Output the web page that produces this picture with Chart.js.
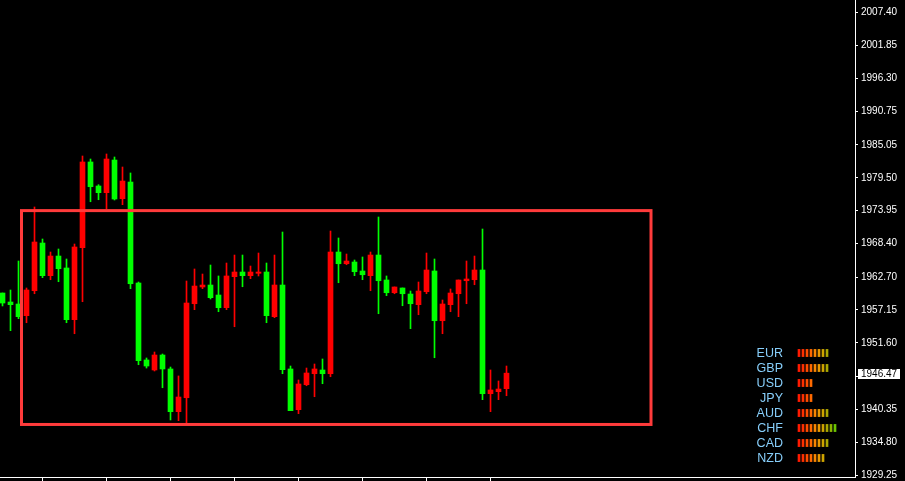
<!DOCTYPE html>
<html>
<head>
<meta charset="utf-8">
<script src="https://cdn.jsdelivr.net/npm/chart.js@4.4.1/dist/chart.umd.min.js"></script>
<style>
  html, body { margin: 0; padding: 0; background: #000; }
  canvas { display: block; }
</style>
</head>
<body>
<canvas id="chart" width="905" height="481"></canvas>
<script>
// candle prices, oldest first
const opens = [1960.02, 1958.50, 1958.16, 1956.19, 1960.41, 1968.47, 1962.95, 1966.27, 1964.25, 1955.51,
  1967.68, 1982.17, 1978.11, 1976.98, 1982.50, 1975.96, 1978.78, 1961.71, 1948.70, 1947.01,
  1949.54, 1947.18, 1939.96, 1942.32, 1958.21, 1961.04, 1961.37, 1959.68, 1957.54, 1962.78,
  1963.57, 1962.95, 1963.35, 1963.57, 1956.02, 1961.37, 1947.18, 1940.30, 1944.52, 1946.38,
  1947.01, 1946.38, 1966.95, 1964.97, 1965.26, 1963.74, 1962.95, 1966.44, 1962.22, 1960.07,
  1960.87, 1959.85, 1958.05, 1960.24, 1963.74, 1955.34, 1958.05, 1959.90, 1962.10, 1962.27,
  1963.91, 1943.00, 1943.34, 1943.85];
const highs = [1960.02, 1960.53, 1965.43, 1960.87, 1974.56, 1969.15, 1966.95, 1967.46, 1965.77, 1968.30,
  1983.18, 1982.67, 1978.33, 1983.52, 1983.01, 1981.32, 1980.31, 1961.88, 1949.04, 1950.05,
  1949.71, 1947.51, 1946.00, 1962.05, 1964.08, 1963.23, 1964.75, 1962.90, 1965.09, 1966.44,
  1966.44, 1964.58, 1966.78, 1965.09, 1966.44, 1970.33, 1947.68, 1945.32, 1947.34, 1948.02,
  1948.87, 1970.50, 1969.32, 1966.61, 1965.60, 1966.11, 1966.95, 1972.87, 1962.90, 1961.04,
  1960.87, 1960.36, 1961.88, 1966.78, 1965.77, 1958.84, 1960.70, 1962.22, 1965.43, 1966.27,
  1970.84, 1947.01, 1945.15, 1947.68];
const lows = [1957.83, 1953.65, 1955.68, 1955.00, 1959.90, 1962.61, 1962.27, 1961.93, 1955.00, 1953.14,
  1958.55, 1975.45, 1975.79, 1974.22, 1975.74, 1974.95, 1960.75, 1947.90, 1947.34, 1946.84,
  1944.01, 1938.56, 1938.44, 1938.05, 1957.20, 1960.75, 1959.01, 1956.86, 1957.20, 1954.32,
  1961.08, 1962.44, 1962.90, 1955.00, 1955.85, 1946.38, 1940.13, 1939.62, 1944.35, 1942.49,
  1944.69, 1945.87, 1961.76, 1964.80, 1962.95, 1962.27, 1960.41, 1956.52, 1959.57, 1959.90,
  1957.87, 1953.99, 1956.35, 1959.90, 1949.08, 1953.14, 1956.86, 1956.02, 1958.21, 1961.42,
  1941.99, 1939.96, 1941.99, 1942.66];
const closes = [1958.33, 1958.05, 1956.02, 1960.53, 1968.64, 1962.95, 1966.27, 1964.13, 1955.51, 1967.80,
  1982.17, 1977.99, 1976.98, 1982.67, 1975.91, 1978.95, 1961.59, 1948.58, 1947.68, 1949.54,
  1947.18, 1939.96, 1942.44, 1958.33, 1961.20, 1961.37, 1959.23, 1957.54, 1962.90, 1963.57,
  1962.95, 1963.57, 1963.57, 1956.19, 1961.37, 1947.06, 1940.13, 1944.64, 1946.50, 1947.18,
  1946.38, 1966.95, 1964.97, 1965.43, 1963.62, 1963.11, 1966.44, 1962.10, 1960.07, 1961.04,
  1959.90, 1958.21, 1960.36, 1963.91, 1955.34, 1958.16, 1960.02, 1962.22, 1962.39, 1963.91,
  1943.00, 1943.63, 1943.79, 1946.47];

const priceTicks = [2007.40, 2001.85, 1996.30, 1990.75, 1985.05, 1979.50, 1973.95, 1968.40,
  1962.70, 1957.15, 1951.60, 1945.90, 1940.35, 1934.80, 1929.25];
const timeTicks = [5, 13, 21, 29, 37, 45, 53, 61];

// range box (bar index / price)
const boxBars = [2.375, 81.0625];
const boxPrices = [1937.8, 1973.95];

// currency strength panel
const currencies = ['EUR', 'GBP', 'USD', 'JPY', 'AUD', 'CHF', 'CAD', 'NZD'];
const strength = [8, 8, 4, 4, 8, 10, 8, 7];
const segColors = ['#ff1a00', '#ff3000', '#ff4c00', '#ff6a00', '#f88600', '#ea9800',
  '#cfa400', '#aaa800', '#8cb400', '#6cc400'];

const idx = opens.map((_, i) => i);
const candleColors = idx.map(i => closes[i] > opens[i] ? '#ff0000' : '#00ff00');

const strengthSets = currencies.map((c, r) => ({
  label: c,
  data: Array.from({ length: strength[r] }, (_, j) => ({ x: j, y: [r - 0.24, r + 0.24] })),
  backgroundColor: segColors.slice(0, strength[r]),
  barThickness: 2,
  grouped: false,
  xAxisID: 'xs',
  yAxisID: 'ys'
}));

const overlay = {
  id: 'overlay',
  afterDatasetsDraw(chart) {
    const { ctx, scales } = chart;
    const x = scales.x, y = scales.y, xs = scales.xs, ys = scales.ys;
    ctx.save();
    // range rectangle
    const x1 = x.getPixelForValue(boxBars[0]), x2 = x.getPixelForValue(boxBars[1]);
    const y1 = y.getPixelForValue(boxPrices[1]), y2 = y.getPixelForValue(boxPrices[0]);
    ctx.strokeStyle = '#ff3b3b';
    ctx.lineWidth = 3;
    ctx.strokeRect(x1, y1, x2 - x1, y2 - y1);
    // currency names
    ctx.font = '12.5px "Liberation Sans", Arial, sans-serif';
    ctx.fillStyle = '#87cefa';
    ctx.textAlign = 'right';
    ctx.textBaseline = 'middle';
    currencies.forEach((c, r) => {
      ctx.fillText(c, xs.getPixelForValue(-4), ys.getPixelForValue(r) + 0.5);
    });
    ctx.restore();
  },
  afterDraw(chart) {
    const { ctx, scales } = chart;
    const y = scales.y;
    const last = closes[closes.length - 1];
    const py = y.getPixelForValue(last);
    ctx.save();
    ctx.fillStyle = '#ffffff';
    ctx.fillRect(y.left + 3, Math.round(py) - 4, 42, 10);
    ctx.fillStyle = '#000000';
    ctx.font = '10px "Liberation Sans", Arial, sans-serif';
    ctx.textAlign = 'left';
    ctx.textBaseline = 'middle';
    ctx.fillText(last.toFixed(2), y.left + 6, Math.round(py) + 1);
    ctx.restore();
  }
};

new Chart(document.getElementById('chart'), {
  type: 'bar',
  data: {
    datasets: [
      {
        label: 'body',
        data: idx.map(i => ({ x: i, y: [opens[i], closes[i]] })),
        backgroundColor: candleColors,
        barThickness: 5,
        minBarLength: 1,
        grouped: false,
        order: 0
      },
      {
        label: 'wick',
        data: idx.map(i => ({ x: i, y: [lows[i], highs[i]] })),
        backgroundColor: candleColors,
        barThickness: 1,
        grouped: false,
        order: 1
      },
      ...strengthSets
    ]
  },
  options: {
    responsive: false,
    animation: false,
    events: [],
    layout: { padding: 0 },
    plugins: { legend: { display: false }, tooltip: { enabled: false } },
    scales: {
      x: {
        type: 'linear',
        min: -0.3125,
        max: 106.5625,
        offset: false,
        grid: { drawOnChartArea: false, color: '#ffffff', tickLength: 4, offset: false },
        border: { color: '#ffffff' },
        ticks: { display: false },
        afterBuildTicks: s => { s.ticks = timeTicks.map(v => ({ value: v })); },
        afterFit: s => { s.height = 4; s.paddingLeft = 0; s.paddingRight = 0; }
      },
      y: {
        type: 'linear',
        position: 'right',
        min: 1928.92,
        max: 2009.55,
        grid: { drawOnChartArea: false, color: '#ffffff', tickLength: 3 },
        border: { color: '#ffffff' },
        ticks: {
          color: '#ffffff',
          padding: 3,
          autoSkip: false,
          font: { family: '"Liberation Sans", Arial, sans-serif', size: 10 },
          callback: v => v.toFixed(2)
        },
        afterBuildTicks: s => { s.ticks = priceTicks.map(v => ({ value: v })); },
        afterFit: s => { s.width = 50; s.paddingTop = 0; s.paddingBottom = 0; }
      },
      xs: { type: 'linear', display: false, offset: false, min: -199.75, max: 14 },
      ys: { type: 'linear', display: false, reverse: true, min: -23.5333, max: 8.2667 }
    }
  },
  plugins: [overlay]
});
</script>
</body>
</html>
